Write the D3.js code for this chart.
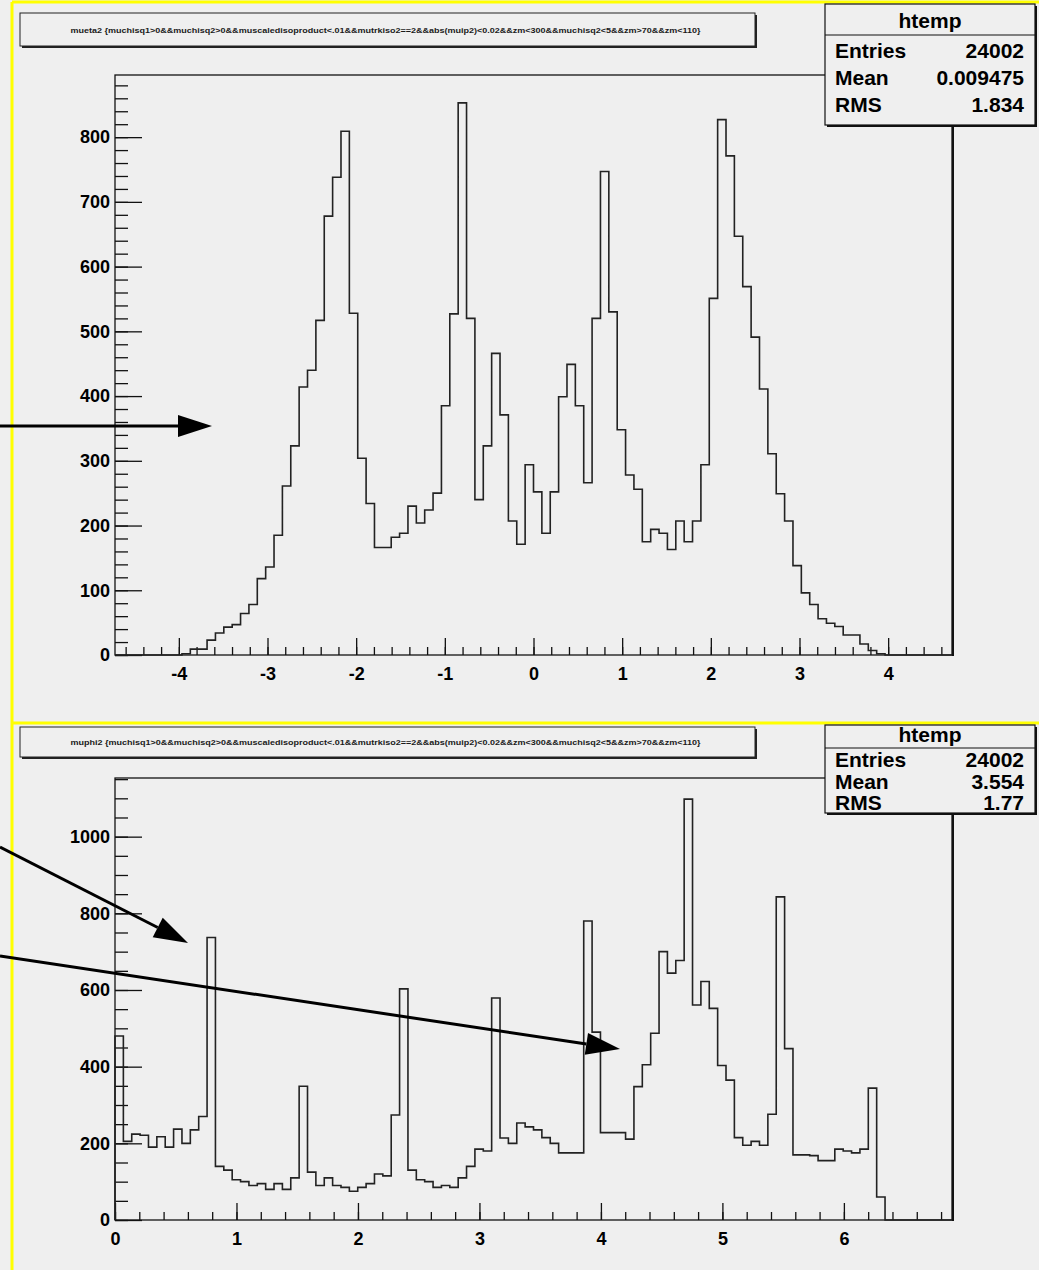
<!DOCTYPE html>
<html>
<head>
<meta charset="utf-8">
<script src="https://cdn.jsdelivr.net/npm/d3@7"></script>
<style>
  body { margin: 0; background: #ffffff; }
  svg text { font-family: "Liberation Sans", Arial, Helvetica, sans-serif; }
</style>
</head>
<body>
<svg id="canvas" width="1039" height="1270"></svg>
<script>
// ---- histogram contents (100 bins each) ----
const etaRange = [-4.72, 4.72];
const etaCounts = [
  0, 0, 0, 0, 0, 0, 0, 0, 2, 9,
  9, 23, 34, 43, 47, 64, 78, 118, 136, 185,
  261, 323, 414, 440, 517, 678, 738, 809, 528, 304,
  234, 166, 166, 182, 188, 230, 204, 224, 250, 385,
  527, 853, 520, 240, 323, 466, 371, 207, 171, 294,
  252, 188, 252, 399, 449, 385, 266, 520, 747, 530,
  348, 278, 256, 175, 194, 188, 163, 207, 175, 207,
  294, 551, 827, 771, 647, 569, 491, 411, 311, 249,
  207, 138, 96, 78, 56, 49, 44, 31, 31, 17,
  7, 2, 0, 0, 0, 0, 0, 0, 0, 0
];
const etaYTicks = [0, 100, 200, 300, 400, 500, 600, 700, 800];
const etaXTicks = [-4, -3, -2, -1, 0, 1, 2, 3, 4];
const etaTitle = "mueta2 {muchisq1>0&&muchisq2>0&&muscaledisoproduct<.01&&mutrkiso2==2&&abs(muip2)<0.02&&zm<300&&muchisq2<5&&zm>70&&zm<110}";
const etaStats = [["Entries", "24002"], ["Mean", "0.009475"], ["RMS", "1.834"]];

const phiRange = [0, 6.89];
const phiCounts = [
  480, 205, 224, 221, 190, 217, 190, 237, 200, 235,
  270, 737, 140, 130, 105, 100, 90, 95, 80, 95,
  80, 110, 349, 125, 90, 110, 90, 85, 75, 85,
  95, 120, 115, 274, 603, 130, 105, 100, 85, 90,
  85, 110, 140, 185, 180, 579, 214, 200, 253, 243,
  235, 215, 200, 175, 175, 175, 780, 490, 228, 228,
  228, 211, 348, 405, 487, 700, 644, 677, 1098, 561,
  622, 552, 403, 365, 215, 195, 205, 195, 276, 843,
  447, 170, 170, 168, 155, 155, 185, 180, 175, 185,
  344, 60, 0, 0, 0, 0, 0, 0, 0, 0
];
const phiYTicks = [0, 200, 400, 600, 800, 1000];
const phiXTicks = [0, 1, 2, 3, 4, 5, 6];
const phiTitle = "muphi2 {muchisq1>0&&muchisq2>0&&muscaledisoproduct<.01&&mutrkiso2==2&&abs(muip2)<0.02&&zm<300&&muchisq2<5&&zm>70&&zm<110}";
const phiStats = [["Entries", "24002"], ["Mean", "3.554"], ["RMS", "1.77"]];
const histName = "htemp";

// ---- drawing ----
const svg = d3.select("#canvas");
const BG = "#efefef";
const INK = "#111";
const plainInt = d => String(d);   // ASCII hyphen for negatives

svg.append("rect").attr("width", 1039).attr("height", 1270).attr("fill", BG);

function drawPad(p) {
  const g = svg.append("g");

  // highlighted pad border (top and left edges)
  g.append("line").attr("x1", 12).attr("x2", 1039).attr("y1", p.padTop).attr("y2", p.padTop)
    .attr("stroke", "#ffff00").attr("stroke-width", 3);
  g.append("line").attr("x1", 12).attr("x2", 12).attr("y1", p.padTop).attr("y2", p.padBottom)
    .attr("stroke", "#ffff00").attr("stroke-width", 3);

  const f = p.frame;
  const x = d3.scaleLinear().domain(p.range).range([f.left, f.right]);
  const y = d3.scaleLinear().domain([0, p.yMax]).range([f.bottom, f.top]);

  // frame
  g.append("rect").attr("x", f.left).attr("y", f.top)
    .attr("width", f.right - f.left).attr("height", f.bottom - f.top)
    .attr("fill", "none").attr("stroke", INK).attr("stroke-width", 1.3);
  g.append("line").attr("x1", f.right + 1).attr("x2", f.right + 1).attr("y1", f.top).attr("y2", f.bottom + 1)
    .attr("stroke", INK).attr("stroke-width", 2);

  // y axis: major + minor ticks pointing into the frame
  const yMinor = d3.range(0, p.yMax + 1e-6, p.yMinorStep).filter(v => v <= p.yMax);
  g.append("g").attr("transform", `translate(${f.left},0)`)
    .call(d3.axisLeft(y).tickValues(yMinor).tickSize(-13).tickFormat(""))
    .call(s => s.select(".domain").remove())
    .selectAll("line").attr("stroke", INK).attr("stroke-width", 1.3);
  const ya = g.append("g").attr("transform", `translate(${f.left},0)`)
    .call(d3.axisLeft(y).tickValues(p.yTicks).tickSize(-27).tickPadding(5).tickFormat(plainInt));
  ya.select(".domain").remove();
  ya.selectAll("line").attr("stroke", INK).attr("stroke-width", 1.3);
  ya.selectAll("text").attr("font-size", 18).attr("font-weight", "bold").attr("fill", "#000");

  // x axis
  const xMinor = d3.range(Math.ceil(p.range[0] / 0.2) * 0.2, p.range[1], 0.2);
  g.append("g").attr("transform", `translate(0,${f.bottom})`)
    .call(d3.axisBottom(x).tickValues(xMinor).tickSize(-8).tickFormat(""))
    .call(s => s.select(".domain").remove())
    .selectAll("line").attr("stroke", INK).attr("stroke-width", 1.3);
  const xa = g.append("g").attr("transform", `translate(0,${f.bottom})`)
    .call(d3.axisBottom(x).tickValues(p.xTicks).tickSize(-17).tickPadding(12).tickFormat(plainInt));
  xa.select(".domain").remove();
  xa.selectAll("line").attr("stroke", INK).attr("stroke-width", 1.3);
  xa.selectAll("text").attr("font-size", 18).attr("font-weight", "bold").attr("fill", "#000");

  // histogram outline
  const n = p.counts.length;
  const w = (p.range[1] - p.range[0]) / n;
  const pts = [[p.range[0], 0]];
  p.counts.forEach((c, i) => {
    pts.push([p.range[0] + i * w, c]);
    pts.push([p.range[0] + (i + 1) * w, c]);
  });
  pts.push([p.range[1], 0]);
  g.append("path")
    .attr("d", d3.line().x(d => x(d[0])).y(d => y(d[1]))(pts))
    .attr("fill", "none").attr("stroke", "#222").attr("stroke-width", 1.6);

  // title box
  const t = p.titleBox;
  g.append("rect").attr("x", t.x + 2).attr("y", t.y + 2).attr("width", t.w).attr("height", t.h).attr("fill", "#222");
  g.append("rect").attr("x", t.x).attr("y", t.y).attr("width", t.w).attr("height", t.h)
    .attr("fill", BG).attr("stroke", "#222").attr("stroke-width", 1);
  g.append("text").attr("x", t.x + t.w / 2 - 2).attr("y", t.y + t.h / 2 + 3)
    .attr("text-anchor", "middle").attr("font-size", 8).attr("font-weight", "bold").attr("fill", "#1a1a1a")
    .attr("textLength", t.textW).attr("lengthAdjust", "spacingAndGlyphs")
    .text(p.title);

  // statistics box
  const b = p.statBox;
  g.append("rect").attr("x", b.x + 2).attr("y", b.y + 2).attr("width", b.w).attr("height", b.h).attr("fill", "#111");
  g.append("rect").attr("x", b.x).attr("y", b.y).attr("width", b.w).attr("height", b.h)
    .attr("fill", BG).attr("stroke", "#111").attr("stroke-width", 1.2);
  g.append("line").attr("x1", b.x).attr("x2", b.x + b.w).attr("y1", b.sep).attr("y2", b.sep)
    .attr("stroke", "#111").attr("stroke-width", 1.2);
  g.append("text").attr("x", b.x + b.w / 2).attr("y", b.headBase).attr("text-anchor", "middle")
    .attr("font-size", b.fs).attr("font-weight", "bold").text(histName);
  p.stats.forEach((row, i) => {
    g.append("text").attr("x", b.x + 10).attr("y", b.rowBase[i])
      .attr("font-size", b.fs).attr("font-weight", "bold").text(row[0]);
    g.append("text").attr("x", b.x + b.w - 11).attr("y", b.rowBase[i]).attr("text-anchor", "end")
      .attr("font-size", b.fs).attr("font-weight", "bold").text(row[1]);
  });

  // annotation arrows
  p.arrows.forEach(a => {
    const ang = Math.atan2(a[3] - a[1], a[2] - a[0]);
    const L = 34, H = 11;
    const bx = a[2] - L * Math.cos(ang), by = a[3] - L * Math.sin(ang);
    g.append("line").attr("x1", a[0]).attr("y1", a[1]).attr("x2", bx).attr("y2", by)
      .attr("stroke", "#000").attr("stroke-width", 3);
    const pts2 = [
      [a[2], a[3]],
      [bx + H * Math.sin(ang), by - H * Math.cos(ang)],
      [bx - H * Math.sin(ang), by + H * Math.cos(ang)]
    ];
    g.append("polygon").attr("points", pts2.map(q => q.join(",")).join(" ")).attr("fill", "#000");
  });
}

drawPad({
  padTop: 2, padBottom: 723,
  frame: { left: 115, right: 952, top: 75, bottom: 655 },
  range: etaRange, yMax: 896, yMinorStep: 20,
  yTicks: etaYTicks, xTicks: etaXTicks, counts: etaCounts,
  title: etaTitle,
  titleBox: { x: 20, y: 13, w: 735, h: 33, textW: 630 },
  stats: etaStats,
  statBox: { x: 825, y: 4, w: 210, h: 121, sep: 35, headBase: 28, rowBase: [58, 85, 112], fs: 21 },
  arrows: [[0, 426, 212, 426]]
});

drawPad({
  padTop: 723, padBottom: 1270,
  frame: { left: 115, right: 952, top: 778, bottom: 1220 },
  range: phiRange, yMax: 1153, yMinorStep: 50,
  yTicks: phiYTicks, xTicks: phiXTicks, counts: phiCounts,
  title: phiTitle,
  titleBox: { x: 20, y: 727, w: 735, h: 30, textW: 630 },
  stats: phiStats,
  statBox: { x: 825, y: 725, w: 210, h: 88, sep: 748, headBase: 742, rowBase: [767, 789, 810], fs: 21 },
  arrows: [[0, 847, 188, 943], [0, 956, 620, 1049]]
});
</script>
</body>
</html>
